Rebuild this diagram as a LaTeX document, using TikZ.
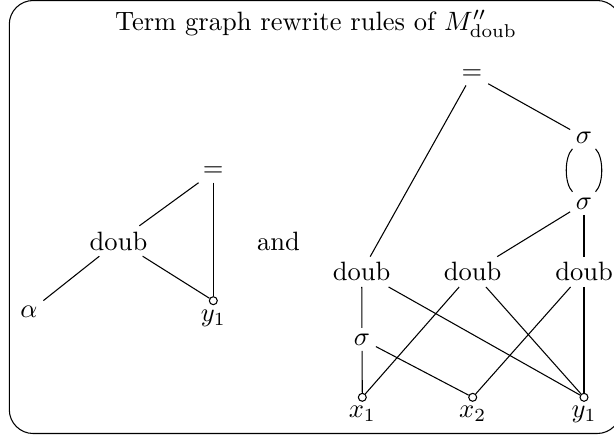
\documentclass[tikz,border=0pt]{standalone}
\usepackage{amsmath}
\usepackage{tikz}
\usetikzlibrary{positioning}

\begin{document}
\begin{tikzpicture}[x=0.377pt, y=-0.377pt, every node/.style={inner sep=2pt},
    port/.style={circle, draw, fill=white, inner sep=0pt, minimum size=3pt},
    portlabel/.style={label distance=-0.5pt}]
            \useasboundingbox (0,0) rectangle (614,440);
            \draw[rounded corners=9pt] (9.3,0.5) rectangle (621,433.5);
            \node[anchor=base] (title) at (316,30) {Term graph rewrite rules of $M''_{\mathrm{doub}}$};

            \node (eqL) at (213.3,172) {$=$};
            \node (doubL) at (118.5,241) {doub};
            \node (alpha) at (29,312) {$\alpha$};
            \node[port, label={[portlabel, name=y1Llab]below:$y_1$}] (y1L) at (213.3,300.7) {};
            \node (and) at (278.5,241) {and};

            \draw (eqL) -- (doubL);
            \draw (eqL) -- (y1L);
            \draw (doubL) -- (alpha);
            \draw (doubL) -- (y1L);

            \node (eqR) at (472,74.7) {$=$};
            \node (s1) at (584,137.3) {$\sigma$};
            \node (s2) at (584,203.3) {$\sigma$};
            \node (d1) at (361.7,271.8) {doub};
            \node (d2) at (472.5,271.8) {doub};
            \node (d3) at (584,271.8) {doub};
            \node (s3) at (362,339.3) {$\sigma$};
            \node[port, label={[portlabel, name=x1lab]below:$x_1$}] (x1) at (362.3,397.3) {};
            \node[port, label={[portlabel, name=x2lab]below:$x_2$}] (x2) at (472.7,397.3) {};
            \node[port, label={[portlabel, name=y1Rlab]below:$y_1$}] (y1R) at (584,397.3) {};

            \draw (eqR) -- (d1);
            \draw (eqR) -- (s1);
            \draw (s1) to[out=-135, in=135, looseness=0.7] (s2);
            \draw (s1) to[out=-45, in=45, looseness=0.7] (s2);
            \draw (s2) -- (d2);
            \draw (s2) -- (d3);
            \draw (d1) -- (s3);
            \draw (d1) -- (y1R);
            \draw (s3) -- (x1);
            \draw (s3) -- (x2);
            \draw (d2) -- (x1);
            \draw (d2) -- (y1R);
            \draw (d3) -- (x2);
            \draw (d3) -- (y1R);
        \end{tikzpicture}
\end{document}
